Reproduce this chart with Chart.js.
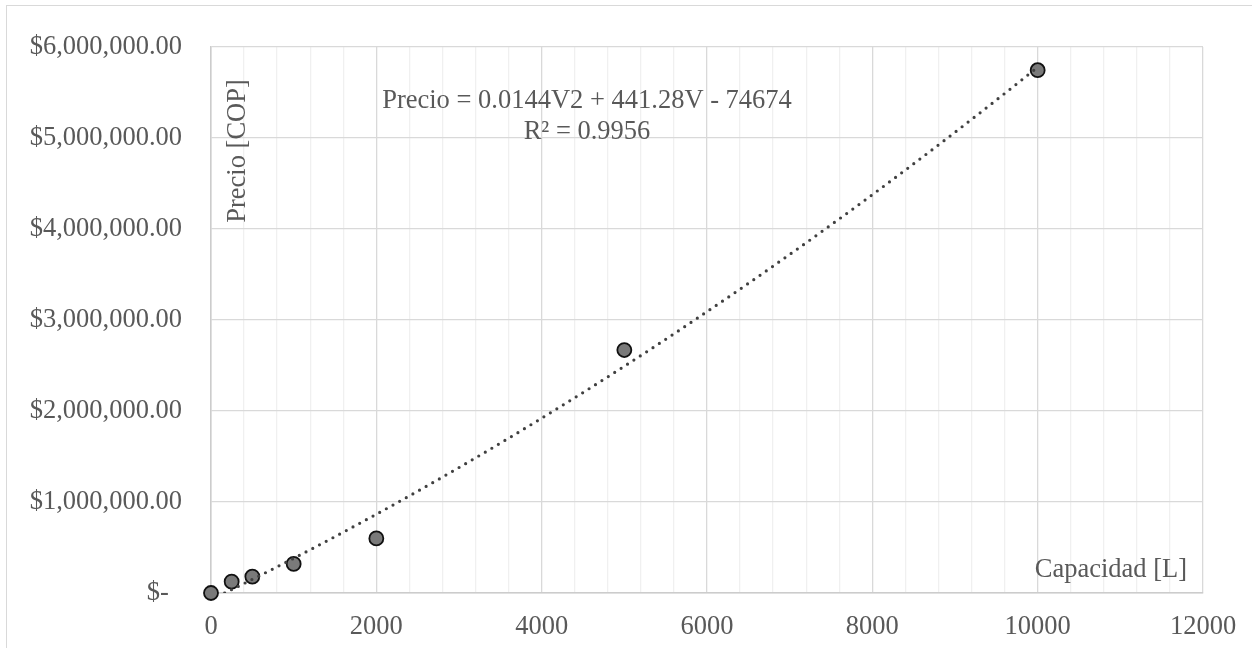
<!DOCTYPE html>
<html>
<head>
<meta charset="utf-8">
<title>Precio vs Capacidad</title>
<script src="https://cdn.jsdelivr.net/npm/chart.js@4.4.1/dist/chart.umd.min.js"></script>
<style>
  html, body { margin: 0; padding: 0; background: #fff; overflow: hidden; }
  #frame {
    position: absolute; left: 6px; top: 5px; width: 1400px; height: 800px;
    border-left: 1px solid #d9d9d9; border-top: 1px solid #d9d9d9;
  }
  #wrap { position: absolute; left: 0; top: 0; width: 1252px; height: 648px; }
</style>
</head>
<body>
<div id="frame"></div>
<div id="wrap"><canvas id="precioChart" width="1252" height="648"></canvas></div>
<script>
// tanques: capacidad [L] vs precio [COP]
const capacidad = [0, 250, 500, 1000, 2000, 5000, 10000];
const precio = [0, 125000, 180000, 320000, 600000, 2670000, 5745000];

// tendencia polinómica de orden 2: a*V^2 + b*V + c
const coefTendencia = [0.0144, 441.28, -74674];
const r2 = 0.9956;

const xMin = 0, xMax = 12000, xPaso = 2000, xPasoMenor = 400;
const yMin = 0, yMax = 6000000, yPaso = 1000000;

const FONT = "'Liberation Serif', 'Times New Roman', serif";
const TAM = 26.5;
const GRIS_TEXTO = '#595959';

const puntos = capacidad.map((v, i) => ({ x: v, y: precio[i] }));

// curva de la tendencia muestreada a lo largo del rango de datos
const curva = [];
for (let v = capacidad[0]; v <= capacidad[capacidad.length - 1]; v += 50) {
    const [a, b, c] = coefTendencia;
    curva.push({ x: v, y: a * v * v + b * v + c });
}

function formatoPrecio(v) {
    if (v === 0) return '$-  ';
    return '$' + v.toLocaleString('en-US', { minimumFractionDigits: 2, maximumFractionDigits: 2 });
}

const textosPlugin = {
    id: 'textos',
    afterDatasetsDraw(chart) {
        const { ctx, chartArea } = chart;
        ctx.save();
        ctx.fillStyle = GRIS_TEXTO;
        ctx.font = TAM + 'px ' + FONT;

        // ecuación y R²
        ctx.textAlign = 'center';
        ctx.textBaseline = 'alphabetic';
        const [a, b, c] = coefTendencia;
        const ecuacion = 'Precio = ' + a + 'V2 + ' + b + 'V - ' + Math.abs(c);
        ctx.fillText(ecuacion, 587, 108);
        ctx.fillText('R² = ' + r2, 587, 139);

        // título eje X dentro del área
        ctx.textAlign = 'right';
        ctx.fillText('Capacidad [L]', chartArea.right - 16, 577);

        // título eje Y vertical
        ctx.translate(245, 151);
        ctx.rotate(-Math.PI / 2);
        ctx.textAlign = 'center';
        ctx.fillText('Precio [COP]', 0, 0);
        ctx.restore();
    }
};

new Chart(document.getElementById('precioChart'), {
    type: 'scatter',
    data: {
        datasets: [
            {
                label: 'Tendencia',
                data: curva,
                showLine: true,
                pointRadius: 0,
                borderColor: '#404040',
                borderWidth: 3.2,
                borderDash: [0, 7.6],
                borderCapStyle: 'round',
                tension: 0,
                order: 0
            },
            {
                label: 'Precio',
                data: puntos,
                clip: false,
                pointRadius: 7,
                pointBackgroundColor: '#7a7a7a',
                pointBorderColor: '#111111',
                pointBorderWidth: 1.8,
                order: 1
            }
        ]
    },
    options: {
        responsive: false,
        animation: false,
        layout: { padding: { top: 47, right: 49, left: 0, bottom: 0 } },
        plugins: {
            legend: { display: false },
            tooltip: { enabled: false }
        },
        scales: {
            x: {
                type: 'linear',
                min: xMin,
                max: xMax,
                afterFit: s => {
                    s.height = 55;
                    s.paddingLeft = 0;
                    s.paddingRight = 0;
                },
                ticks: {
                    stepSize: xPasoMenor,
                    autoSkip: false,
                    maxRotation: 0,
                    padding: 18,
                    color: GRIS_TEXTO,
                    font: { family: FONT, size: TAM },
                    callback: v => (v % xPaso === 0 ? String(v) : '')
                },
                grid: {
                    drawTicks: false,
                    lineWidth: 1.3,
                    color: ctx => (ctx.tick && ctx.tick.value % xPaso === 0 ? '#d9d9d9' : '#f0f0f0')
                },
                border: { color: '#cccccc', width: 1.5 }
            },
            y: {
                min: yMin,
                max: yMax,
                afterFit: s => {
                    s.width = 211;
                    s.paddingTop = 0;
                    s.paddingBottom = 0;
                },
                ticks: {
                    stepSize: yPaso,
                    padding: 29,
                    color: GRIS_TEXTO,
                    font: { family: FONT, size: TAM },
                    callback: v => formatoPrecio(v)
                },
                grid: {
                    drawTicks: false,
                    lineWidth: 1.3,
                    color: '#d9d9d9'
                },
                border: { color: '#cccccc', width: 1.5 }
            }
        }
    },
    plugins: [textosPlugin]
});
</script>
</body>
</html>
